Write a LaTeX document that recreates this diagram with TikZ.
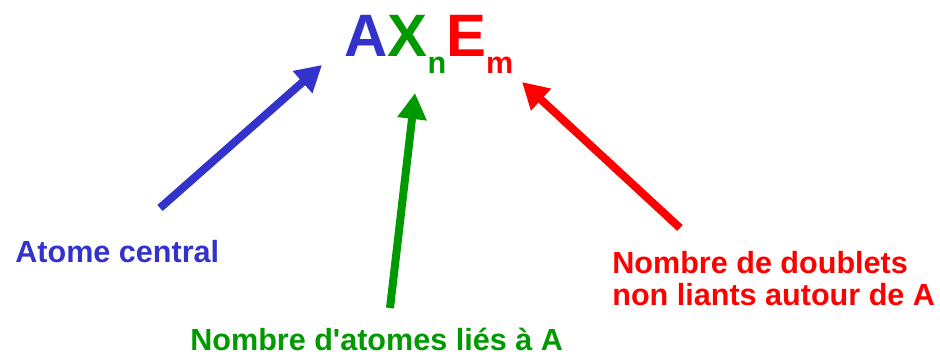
\documentclass[tikz,border=0pt]{standalone}
\usepackage{fontspec}
\setmainfont{Liberation Sans}[Ligatures=TeXOff]
\usetikzlibrary{arrows.meta}
\definecolor{cBlue}{RGB}{51,51,204}
\definecolor{cGreen}{RGB}{0,153,0}
\definecolor{cRed}{RGB}{255,0,0}
\tikzset{
	lbl/.style={anchor=base west, inner sep=0pt, align=left, font=\bfseries\fontsize{17.4}{18.2}\selectfont},
	big/.style={anchor=base west, inner sep=0pt, font=\bfseries\fontsize{34.1}{40}\selectfont},
	fatarrow/.style={-{Triangle[length=0.52cm, width=0.56cm]}, line width=0.16cm},
}
\newcommand{\subidx}[1]{\raisebox{-0.34cm}{\fontsize{17.4}{18}\selectfont #1}}

\begin{document}
\begin{tikzpicture}[x=0.02cm, y=-0.02cm]
	\useasboundingbox (0,0) rectangle (940,358);
	% formula
	\node[big] (f) at (344,57) {\color{cBlue}A\color{cGreen}X\subidx{n}\color{cRed}E\subidx{m}};
	% labels
	\node[lbl, text=cBlue] (a) at (15,262) {Atome central};
	\node[lbl, text=cGreen] (x) at (190,350) {Nombre d'atomes liés à A};
	\node[lbl, text=cRed] (e) at (612,305) {Nombre de doublets\\non liants autour de A};
	% arrows
	\coordinate (ta) at (160,208); \coordinate (ha) at (322,65);
	\coordinate (tx) at (390,308); \coordinate (hx) at (415,93);
	\coordinate (te) at (680,228); \coordinate (he) at (522,82);
	\draw[fatarrow, cBlue] (ta) -- (ha);
	\draw[fatarrow, cGreen] (tx) -- (hx);
	\draw[fatarrow, cRed] (te) -- (he);
\end{tikzpicture}
\end{document}
